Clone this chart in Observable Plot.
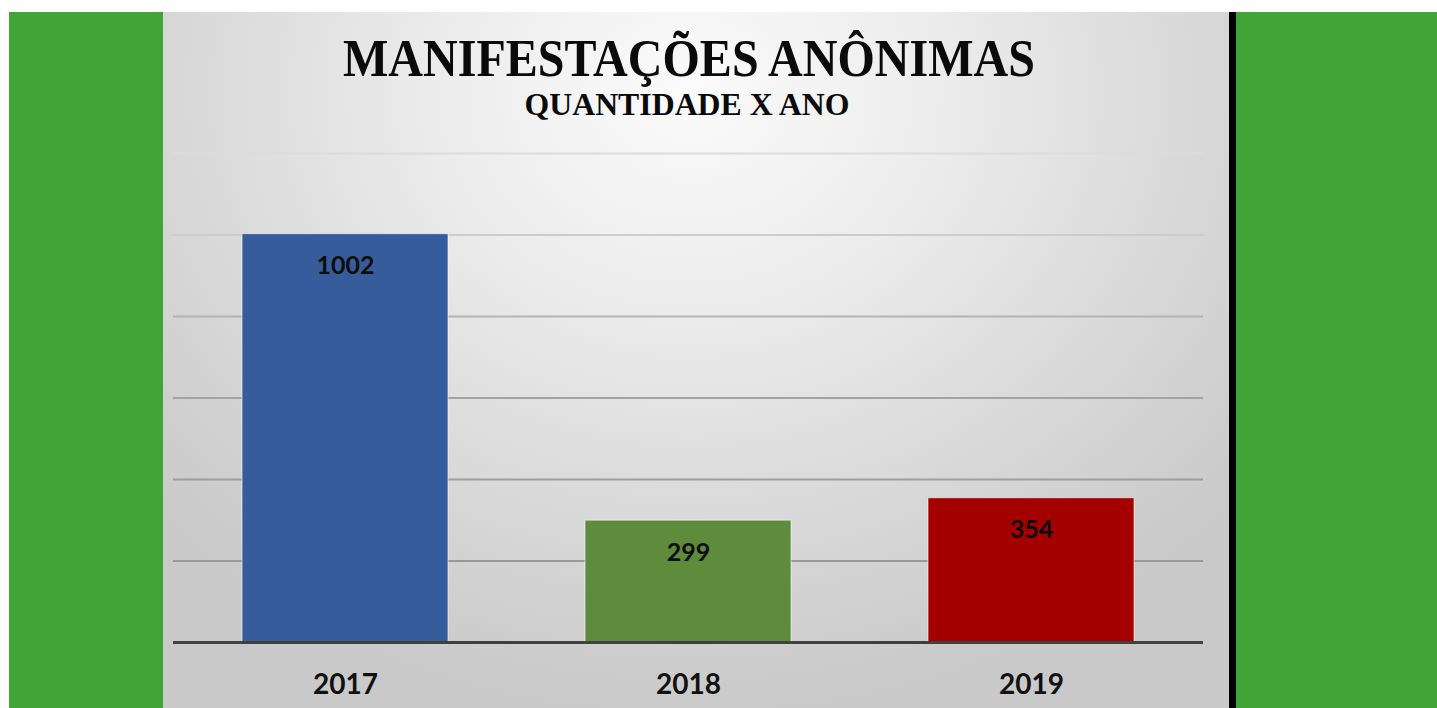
<!DOCTYPE html>
<html>
<head>
<meta charset="utf-8">
<script src="https://cdn.jsdelivr.net/npm/d3@7"></script>
<script src="https://cdn.jsdelivr.net/npm/@observablehq/plot@0.6"></script>
<style>
  html, body { margin: 0; padding: 0; background: #ffffff; width: 1437px; height: 708px; overflow: hidden; }
  .abs { position: absolute; }
  #greenL { left: 9px; top: 12px; width: 154px; height: 696px; background: #41A535; }
  #greenR { left: 1236px; top: 12px; width: 201px; height: 696px; background: #41A535; }
  #blackBar { left: 1229px; top: 12px; width: 7px; height: 696px; background: #000; }
  #panel { left: 163px; top: 12px; width: 1066px; height: 696px;
    background: radial-gradient(ellipse 720px 620px at 527px 80px, #fbfbfb 0%, #ececec 35%, #d6d6d6 75%, #c9c9c9 100%); }
  #titles { left: 163px; top: 12px; }
  #chart { left: 163px; top: 130px; }
</style>
</head>
<body>
<div id="greenL" class="abs"></div>
<div id="greenR" class="abs"></div>
<div id="panel" class="abs"></div>
<div id="blackBar" class="abs"></div>
<svg id="titles" class="abs" width="1066" height="118"></svg>
<div id="chart" class="abs"></div>
<script>
const title = "MANIFESTAÇÕES ANÔNIMAS";
const subtitle = "QUANTIDADE X ANO";
const years = ["2017", "2018", "2019"];
const counts = [1002, 299, 354];
const barColors = ["#365C9C", "#5E8B3C", "#A40000"];
const gridValues = [200, 400, 600, 800, 1000, 1200];

// Titles (real text)
const tsvg = d3.select("#titles");
tsvg.append("text")
  .attr("x", 526).attr("y", 64)
  .attr("text-anchor", "middle")
  .attr("font-family", "Liberation Serif, Times New Roman, serif")
  .attr("font-weight", "bold").attr("font-size", 53)
  .attr("textLength", 692).attr("lengthAdjust", "spacingAndGlyphs")
  .attr("fill", "#0a0a0a")
  .text(title);
tsvg.append("text")
  .attr("x", 524).attr("y", 103)
  .attr("text-anchor", "middle")
  .attr("font-family", "Liberation Serif, Times New Roman, serif")
  .attr("font-weight", "bold").attr("font-size", 32)
  .attr("textLength", 325).attr("lengthAdjust", "spacingAndGlyphs")
  .attr("fill", "#0a0a0a")
  .text(subtitle);

const data = years.map((y, i) => ({year: y, count: counts[i], color: barColors[i]}));
const gridColor = d3.scaleLinear().domain([200, 600, 800, 1000, 1200]).range(["#999999", "#a3a3a3", "#b3b3b3", "#cccccc", "#dcdcdc"]);

const chart = Plot.plot({
  width: 1066,
  height: 578,
  marginLeft: 10,
  marginRight: 26,
  marginTop: 23,
  marginBottom: 66,
  style: {background: "transparent", overflow: "visible"},
  x: {domain: years, paddingInner: 0.4, paddingOuter: 0.2},
  y: {domain: [0, 1200], axis: null},
  marks: [
    Plot.ruleY(gridValues, {y: d => d, stroke: d => gridColor(d), strokeWidth: 2}),
    Plot.barY(data, {x: "year", y: "count", fill: d => d.color, stroke: "#ffffff", strokeOpacity: 0.6, strokeWidth: 1}),
    Plot.ruleY([0], {stroke: "#404040", strokeWidth: 3}),
    Plot.text(data, {x: "year", y: "count", text: d => String(d.count), dy: 32, lineAnchor: "middle",
      fontFamily: "Lato, Calibri, sans-serif", fontWeight: "bold", fontSize: 25, fill: "#0d0d0d"}),
    Plot.axisX({tickSize: 0, tickPadding: 32, label: null, fontFamily: "Lato, Calibri, sans-serif", fontWeight: "bold", fontSize: 28, fill: "#111111"})
  ]
});
document.getElementById("chart").appendChild(chart);
</script>
</body>
</html>
